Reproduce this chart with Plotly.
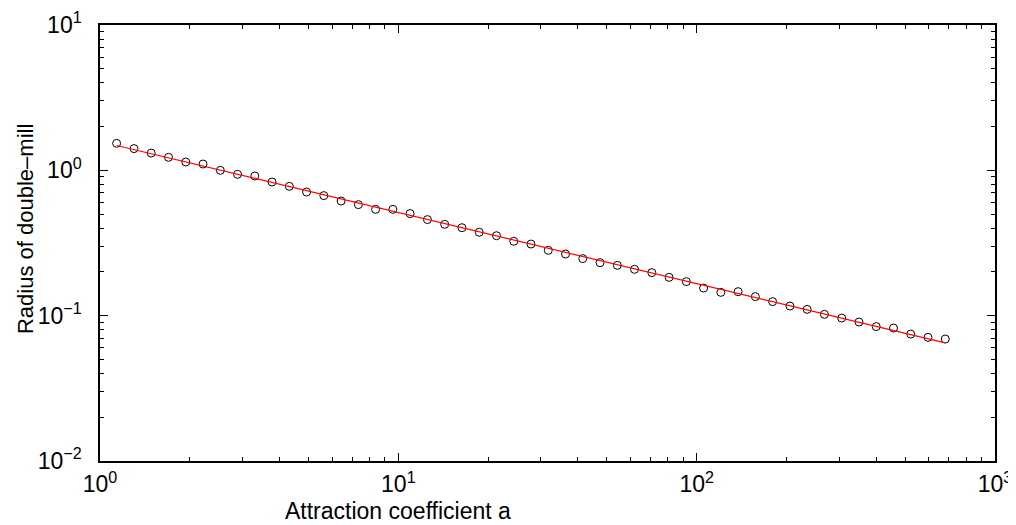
import numpy as np
import plotly.graph_objects as go

# Data
attraction_a = [1.137, 1.300, 1.485, 1.697, 1.939, 2.215, 2.531, 2.891, 3.303, 3.773,
                4.311, 4.925, 5.627, 6.429, 7.345, 8.391, 9.588, 10.95, 12.52, 14.30,
                16.34, 18.67, 21.33, 24.37, 27.84, 31.81, 36.34, 41.52, 47.44, 54.20,
                61.92, 70.74, 80.83, 92.35, 105.5, 120.5, 137.7, 157.3, 179.7, 205.4,
                234.6, 268.1, 306.3, 349.9, 399.8, 456.8, 521.9, 596.3, 681.3]
radius = [1.534, 1.411, 1.315, 1.229, 1.141, 1.105, 1.000, 0.939, 0.914, 0.831,
          0.776, 0.709, 0.670, 0.615, 0.581, 0.539, 0.539, 0.504, 0.458, 0.425,
          0.403, 0.375, 0.355, 0.325, 0.311, 0.2815, 0.2655, 0.247, 0.2317, 0.222,
          0.2084, 0.1977, 0.1835, 0.1715, 0.1549, 0.1447, 0.1463, 0.1352, 0.1249, 0.1165,
          0.1105, 0.1021, 0.0963, 0.0904, 0.0841, 0.0822, 0.0747, 0.0709, 0.0691]

x_tickvals = [1, 10, 100, 1000]
x_ticktext = ["10<sup>0</sup>", "10<sup>1</sup>", "10<sup>2</sup>", "10<sup>3</sup>"]
y_tickvals = [0.01, 0.1, 1, 10]
y_ticktext = ["10<sup>\u22122</sup>", "10<sup>\u22121</sup>", "10<sup>0</sup>", "10<sup>1</sup>"]

x_label = "Attraction coefficient a"
y_label = "Radius of double\u2013mill"

# power-law fit (least squares in log-log space)
la = np.log10(attraction_a)
lr = np.log10(radius)
slope, intercept = np.polyfit(la, lr, 1)
fit_x = np.array([attraction_a[0], attraction_a[-1]])
fit_y = 10 ** (intercept + slope * np.log10(fit_x))

FONT = "Liberation Sans, Arial, Helvetica, sans-serif"

fig = go.Figure()
fig.add_trace(go.Scatter(x=attraction_a, y=radius, mode="markers",
                         marker=dict(symbol="circle-open", size=8, color="black",
                                     line=dict(width=1, color="black")),
                         showlegend=False))
fig.add_trace(go.Scatter(x=fit_x, y=fit_y, mode="lines",
                         line=dict(color="red", width=1.2), showlegend=False))

def minor_vals(lo, hi):
    v = []
    for e in range(lo, hi):
        for m in range(2, 10):
            v.append(m * 10.0 ** e)
    return v

axis_common = dict(type="log", showgrid=False, zeroline=False, showline=True,
                   linecolor="black", linewidth=1.5, mirror="allticks", automargin=False,
                   ticks="inside", ticklen=8, tickwidth=1, tickcolor="black",
                   tickfont=dict(family=FONT, size=23, color="black"))

fig.update_xaxes(range=[0, 3], tickmode="array", tickvals=x_tickvals, ticktext=x_ticktext,
                 minor=dict(tickmode="array", tickvals=minor_vals(0, 3), ticks="inside",
                            ticklen=4, tickcolor="black", tickwidth=1, showgrid=False),
                 ticklabelstandoff=2, **axis_common)
fig.update_yaxes(range=[-2, 1], tickmode="array", tickvals=y_tickvals, ticktext=y_ticktext,
                 minor=dict(tickmode="array", tickvals=minor_vals(-2, 1), ticks="inside",
                            ticklen=4, tickcolor="black", tickwidth=1, showgrid=False),
                 ticklabelstandoff=12, **axis_common)

fig.add_annotation(text=x_label, xref="paper", yref="paper", x=0.333, y=-0.114,
                   xanchor="center", yanchor="middle", showarrow=False,
                   font=dict(family=FONT, size=23, color="black"))
fig.add_annotation(text=y_label, xref="paper", yref="paper", x=-0.0838, y=0.532,
                   xanchor="center", yanchor="middle", showarrow=False, textangle=-90,
                   font=dict(family=FONT, size=22, color="black"))

# page body has an 8px default margin, so the figure is made 8px smaller
fig.update_layout(width=1008, height=517, margin=dict(l=92, r=21, t=17, b=64),
                  plot_bgcolor="white", paper_bgcolor="white", showlegend=False)

fig.write_html("out.html")
